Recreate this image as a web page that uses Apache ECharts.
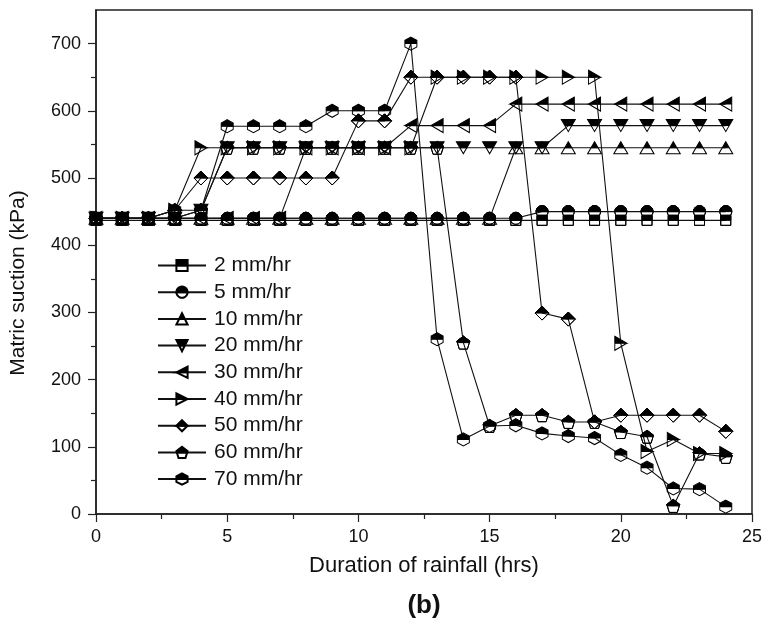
<!DOCTYPE html>
<html>
<head>
<meta charset="utf-8">
<script src="https://cdn.jsdelivr.net/npm/echarts@6/dist/echarts.min.js"></script>
<style>
  html, body { margin: 0; padding: 0; background: #fff; }
  #chart { width: 766px; height: 623px; }
</style>
</head>
<body>
<div id="chart"></div>
<script>
// Duration of rainfall (hrs)
const hours = [0, 1, 2, 3, 4, 5, 6, 7, 8, 9, 10, 11, 12, 13, 14, 15, 16, 17, 18, 19, 20, 21, 22, 23, 24];

// Matric suction (kPa) for each rainfall intensity
const suction2  = [437, 437, 437, 437, 437, 437, 437, 437, 437, 437, 437, 437, 437, 437, 437, 437, 437, 437, 437, 437, 437, 437, 437, 437, 437];
const suction5  = [440, 440, 440, 440, 440, 440, 440, 440, 440, 440, 440, 440, 440, 440, 440, 440, 440, 450, 450, 450, 450, 450, 450, 450, 450];
const suction10 = [440, 440, 440, 440, 440, 440, 440, 440, 440, 440, 440, 440, 440, 440, 440, 440, 545, 545, 545, 545, 545, 545, 545, 545, 545];
const suction20 = [440, 440, 440, 440, 452, 545, 545, 545, 545, 545, 545, 545, 545, 545, 545, 545, 545, 545, 578, 578, 578, 578, 578, 578, 578];
const suction30 = [440, 440, 440, 440, 440, 440, 440, 440, 545, 545, 545, 545, 578, 578, 578, 578, 610, 610, 610, 610, 610, 610, 610, 610, 610];
const suction40 = [440, 440, 440, 452, 545, 545, 545, 545, 545, 545, 545, 545, 545, 650, 650, 650, 650, 650, 650, 650, 254, 93, 111, 90, 90];
const suction50 = [440, 440, 440, 452, 500, 500, 500, 500, 500, 500, 585, 585, 650, 650, 650, 650, 650, 299, 290, 137, 147, 147, 147, 147, 123];
const suction60 = [440, 440, 440, 440, 452, 545, 545, 545, 545, 545, 545, 545, 545, 545, 255, 131, 147, 147, 137, 137, 122, 115, 12, 90, 85];
const suction70 = [440, 440, 440, 452, 452, 577, 577, 577, 577, 600, 600, 600, 700, 260, 111, 131, 132, 120, 116, 113, 88, 69, 38, 37, 11];

const seriesNames = ['2 mm/hr', '5 mm/hr', '10 mm/hr', '20 mm/hr', '30 mm/hr', '40 mm/hr', '50 mm/hr', '60 mm/hr', '70 mm/hr'];
const seriesValues = [suction2, suction5, suction10, suction20, suction30, suction40, suction50, suction60, suction70];

// Axis tick values
const xTicks = [0, 5, 10, 15, 20, 25];
const yTicks = [0, 100, 200, 300, 400, 500, 600, 700];

// ---- half-filled marker shapes (top half solid, bottom half open) ----
function fmt(n) { return Math.round(n * 100) / 100; }
function polyPath(pts) {
  return 'M' + pts.map(p => fmt(p[0]) + ' ' + fmt(p[1])).join('L') + 'Z';
}
// outline traced forward and back: stroked but encloses no area
function outlinePath(pts) {
  const back = pts.slice().reverse();
  const all = pts.concat([pts[0]]).concat(back);
  return 'M' + all.map(p => fmt(p[0]) + ' ' + fmt(p[1])).join('L') + 'Z';
}
// part of a convex polygon above the horizontal line y = 50
function topHalf(pts) {
  const out = [];
  for (let i = 0; i < pts.length; i++) {
    const a = pts[i], b = pts[(i + 1) % pts.length];
    const ain = a[1] <= 50, bin = b[1] <= 50;
    if (ain) out.push(a);
    if (ain !== bin) {
      const t = (50 - a[1]) / (b[1] - a[1]);
      out.push([a[0] + t * (b[0] - a[0]), 50]);
    }
  }
  return out;
}
function halfSymbol(pts) {
  return 'path://' + polyPath(topHalf(pts)) + outlinePath(pts);
}
function circlePts(n) {
  const pts = [];
  for (let i = 0; i < n; i++) {
    const a = Math.PI + (i / n) * 2 * Math.PI;
    pts.push([50 + 50 * Math.cos(a), 50 + 50 * Math.sin(a)]);
  }
  return pts;
}
function pentagonPts() {
  const raw = [];
  for (let i = 0; i < 5; i++) {
    const a = -Math.PI / 2 + i * 2 * Math.PI / 5;
    raw.push([Math.cos(a), Math.sin(a)]);
  }
  const minY = Math.min(...raw.map(p => p[1])), maxY = Math.max(...raw.map(p => p[1]));
  const minX = Math.min(...raw.map(p => p[0])), maxX = Math.max(...raw.map(p => p[0]));
  return raw.map(p => [(p[0] - minX) / (maxX - minX) * 100, (p[1] - minY) / (maxY - minY) * 100]);
}

const shapes = [
  { pts: [[0, 0], [100, 0], [100, 100], [0, 100]], size: [10, 10] },            // square
  { pts: circlePts(28), size: [12, 12] },                                        // circle
  { pts: [[50, 0], [100, 100], [0, 100]], size: [14, 12] },                      // triangle up
  { pts: [[0, 0], [100, 0], [50, 100]], size: [14, 12] },                        // triangle down
  { pts: [[0, 50], [100, 0], [100, 100]], size: [12, 14] },                      // triangle left
  { pts: [[0, 0], [100, 50], [0, 100]], size: [12, 14] },                        // triangle right
  { pts: [[50, 0], [100, 50], [50, 100], [0, 50]], size: [14, 14] },             // diamond
  { pts: pentagonPts(), size: [13, 13] },                                        // pentagon
  { pts: [[50, 0], [100, 25], [100, 75], [50, 100], [0, 75], [0, 25]], size: [12, 13] } // hexagon
];

const FONT = "'Liberation Sans', Arial, sans-serif";

const series = seriesNames.map((name, i) => ({
  name: name,
  type: 'line',
  data: hours.map((h, j) => [h, seriesValues[i][j]]),
  symbol: halfSymbol(shapes[i].pts),
  symbolSize: shapes[i].size,
  showSymbol: true,
  lineStyle: { color: '#111', width: 1.1 },
  itemStyle: { color: '#000', borderColor: '#000', borderWidth: 1 },
  emphasis: { disabled: true },
  z: 2 + i
}));

const chart = echarts.init(document.getElementById('chart'), null, { renderer: 'canvas' });
chart.setOption({
  animation: false,
  backgroundColor: '#fff',
  textStyle: { fontFamily: FONT },
  grid: {
    left: 96, right: 14, top: 10, bottom: 109,
    show: true, borderColor: '#222', borderWidth: 1.5, backgroundColor: 'transparent'
  },
  legend: {
    orient: 'vertical',
    left: 157, top: 255,
    padding: 0,
    itemWidth: 48, itemHeight: 14,
    itemGap: 5.7,
    selectedMode: false,
    textStyle: { fontSize: 21, color: '#111', fontFamily: FONT, lineHeight: 21, padding: [0, 0, 0, 3] },
    data: seriesNames
  },
  xAxis: {
    type: 'value',
    min: 0, max: 25, interval: 5,
    name: 'Duration of rainfall (hrs)',
    nameLocation: 'middle',
    nameGap: 41,
    nameTextStyle: { fontSize: 22, color: '#111', fontFamily: FONT },
    axisLine: { show: true, onZero: false, lineStyle: { color: '#222', width: 1.5 } },
    axisTick: { show: true, inside: false, length: 8, lineStyle: { color: '#222', width: 1.2 }, customValues: xTicks },
    minorTick: { show: true, splitNumber: 2, length: 5, lineStyle: { color: '#222', width: 1.2 } },
    axisLabel: { fontSize: 18, color: '#111', margin: 14, fontFamily: FONT, customValues: xTicks },
    splitLine: { show: false }
  },
  yAxis: {
    type: 'value',
    min: 0, max: 750, interval: 100,
    axisLine: { show: true, onZero: false, lineStyle: { color: '#222', width: 1.5 } },
    axisTick: { show: true, inside: false, length: 8, lineStyle: { color: '#222', width: 1.2 }, customValues: yTicks },
    minorTick: { show: true, splitNumber: 2, length: 5, lineStyle: { color: '#222', width: 1.2 } },
    axisLabel: { fontSize: 18, color: '#111', margin: 15, fontFamily: FONT, customValues: yTicks },
    splitLine: { show: false }
  },
  graphic: [
    {
      type: 'text',
      x: 18, y: 283,
      rotation: Math.PI / 2,
      style: {
        text: 'Matric suction (kPa)',
        font: '21px ' + FONT,
        fill: '#111',
        align: 'center',
        verticalAlign: 'middle'
      }
    },
    {
      type: 'text',
      x: 424, y: 606,
      style: {
        text: '(b)',
        font: 'bold 26px ' + FONT,
        fill: '#111',
        align: 'center',
        verticalAlign: 'middle'
      }
    }
  ],
  series: series
});
</script>
</body>
</html>
